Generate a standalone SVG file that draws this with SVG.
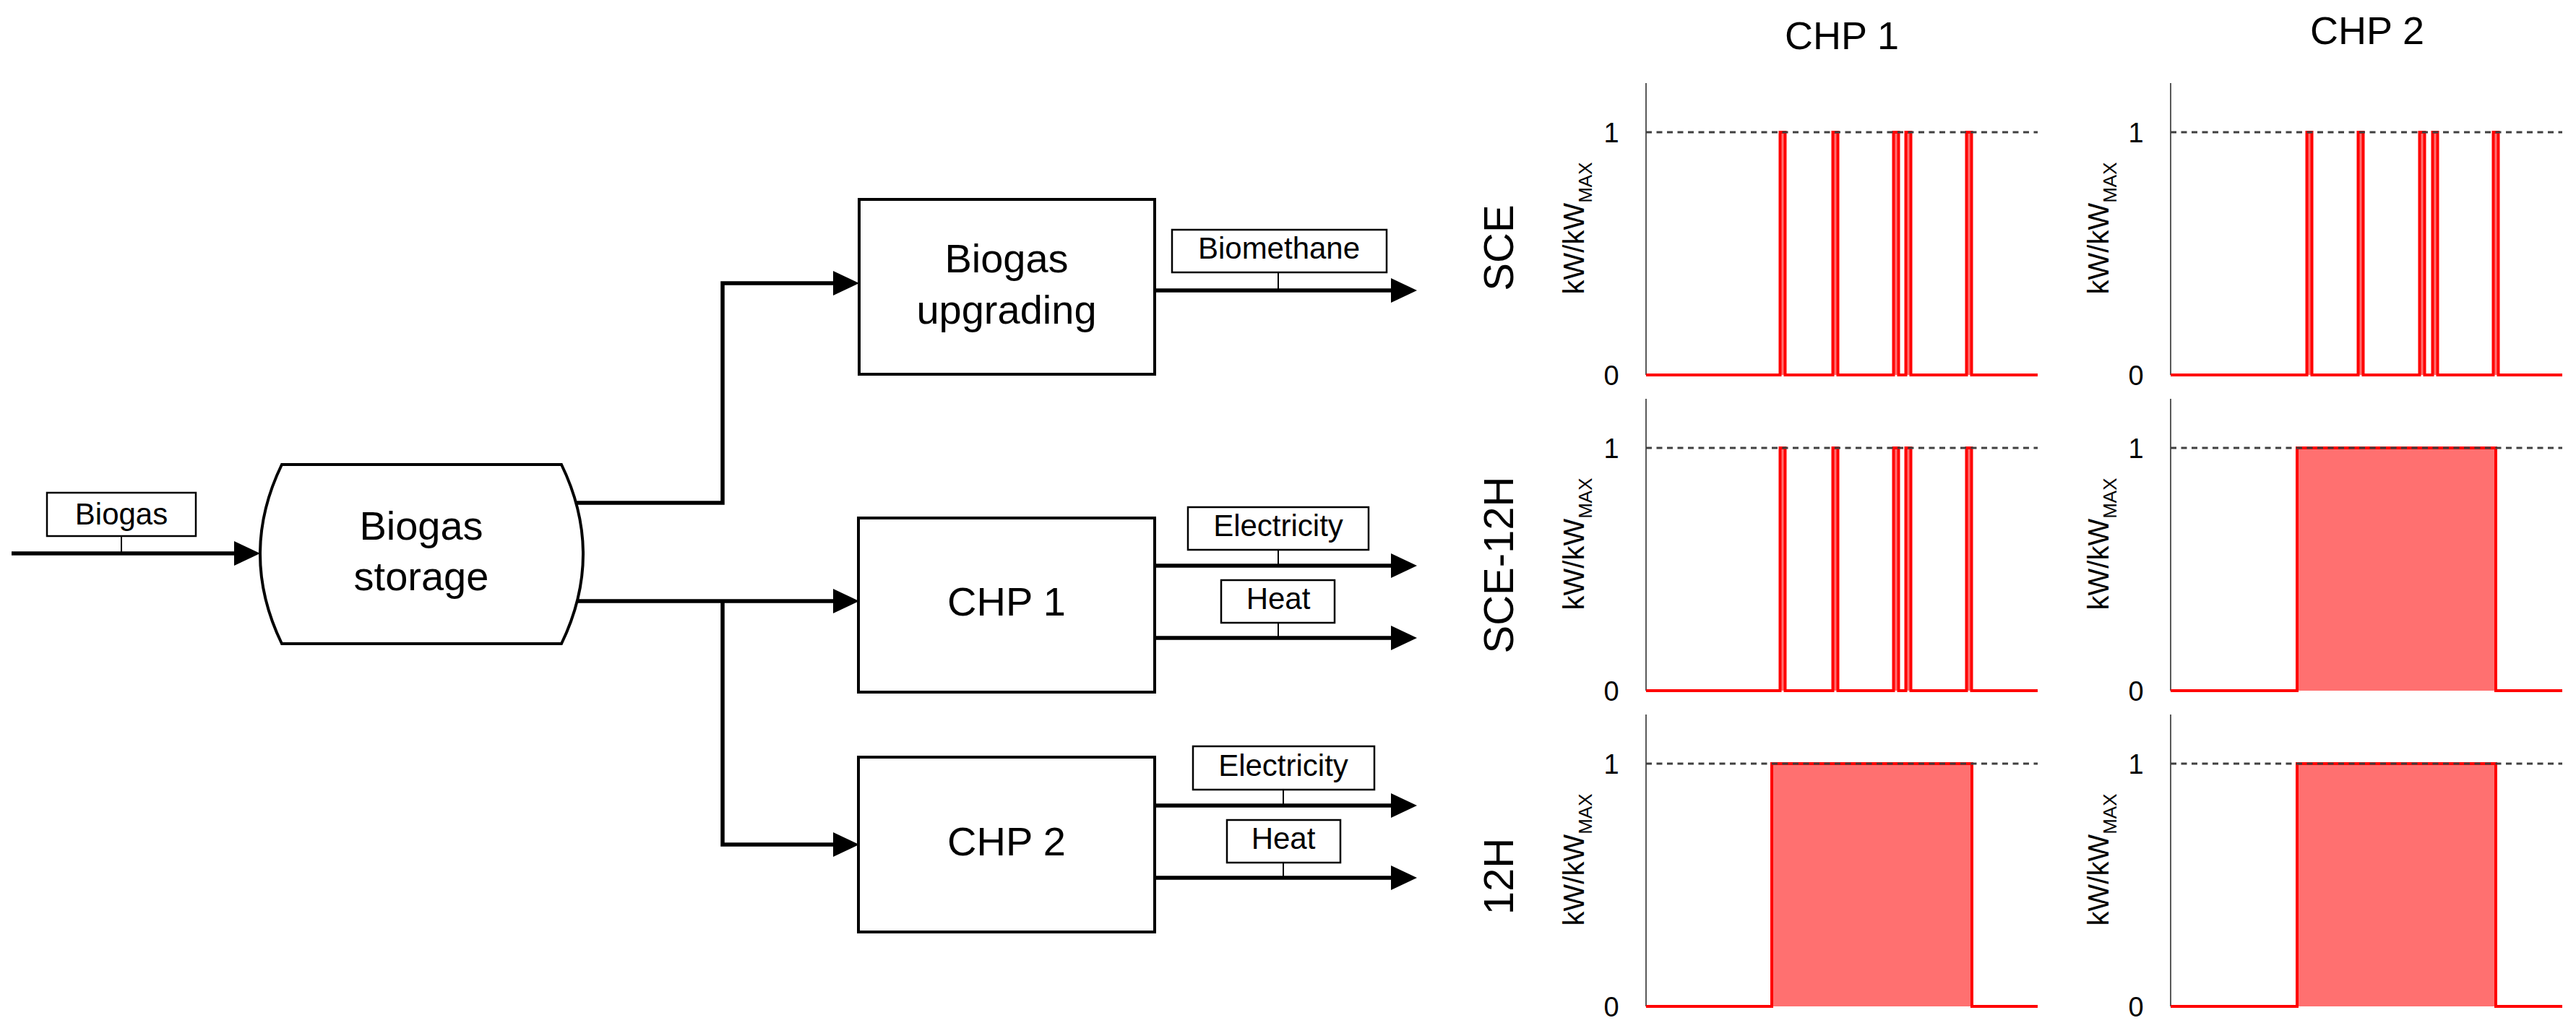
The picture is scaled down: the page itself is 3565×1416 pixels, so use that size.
<svg xmlns="http://www.w3.org/2000/svg" width="3565" height="1416" viewBox="0 0 3565 1416">
<style>
text{font-family:"Liberation Sans",Arial,sans-serif;fill:#000}
.node{fill:#fff;stroke:#000;stroke-width:4}
.nt{font-size:56px;text-anchor:middle}
.lb{fill:#fff;stroke:#000;stroke-width:2.5}
.lt{font-size:42px;text-anchor:middle}
.tick{stroke:#000;stroke-width:2}
.flow{fill:none;stroke:#000;stroke-width:5.5}
.axis{stroke:#595959;stroke-width:2}
.dot{stroke:#404040;stroke-width:3;stroke-dasharray:8 6.5}
.ser{fill:#FF7070;stroke:#FF0000;stroke-width:4;stroke-linejoin:miter}
.tl{font-size:38px;text-anchor:middle}
.yl{font-size:40px;text-anchor:middle}
.rl{font-size:58px;text-anchor:middle}
.ct{font-size:54px;text-anchor:middle}
</style>
<defs>
<marker id="arr" markerUnits="userSpaceOnUse" markerWidth="36" markerHeight="34" refX="0" refY="17" orient="auto">
<path d="M0,0 L36,17 L0,34 Z" fill="#000"/>
</marker>
</defs>
<rect width="3565" height="1416" fill="#fff"/>

<g id="connectors">
<path class="flow" d="M16,766 H324" marker-end="url(#arr)"/>
<path class="flow" d="M797,696 H1000 V392 H1153" marker-end="url(#arr)"/>
<path class="flow" d="M799,832 H1153" marker-end="url(#arr)"/>
<path class="flow" d="M1000,832 V1169 H1153" marker-end="url(#arr)"/>
<path class="flow" d="M1598,402 H1925" marker-end="url(#arr)"/>
<path class="flow" d="M1598,783 H1925" marker-end="url(#arr)"/>
<path class="flow" d="M1598,883 H1925" marker-end="url(#arr)"/>
<path class="flow" d="M1598,1115 H1925" marker-end="url(#arr)"/>
<path class="flow" d="M1598,1215 H1925" marker-end="url(#arr)"/>
</g>

<g id="label-biogas">
<line class="tick" x1="168" y1="742" x2="168" y2="766"/>
<rect class="lb" x="65" y="682" width="206" height="60"/>
<text class="lt" x="168" y="726">Biogas</text>
</g>

<g id="node-biogas-storage">
<path class="node" d="M390,643 L777,643 Q837,767 777,891 L390,891 Q330,767 390,643 Z"/>
<text class="nt" x="583" y="747">Biogas</text>
<text class="nt" x="583" y="817">storage</text>
</g>

<g id="node-biogas-upgrading">
<rect class="node" x="1189" y="276" width="409" height="242"/>
<text class="nt" x="1393" y="377">Biogas</text>
<text class="nt" x="1393" y="448">upgrading</text>
</g>

<g id="label-biomethane">
<line class="tick" x1="1769" y1="377" x2="1769" y2="402"/>
<rect class="lb" x="1622" y="318" width="297" height="59"/>
<text class="lt" x="1770" y="358">Biomethane</text>
</g>

<g id="node-chp1">
<rect class="node" x="1188" y="717" width="410" height="241"/>
<text class="nt" x="1393" y="852">CHP 1</text>
</g>

<g id="label-chp1-electricity">
<line class="tick" x1="1769" y1="761" x2="1769" y2="783"/>
<rect class="lb" x="1644" y="702" width="250" height="59"/>
<text class="lt" x="1769" y="742">Electricity</text>
</g>
<g id="label-chp1-heat">
<line class="tick" x1="1769" y1="862" x2="1769" y2="883"/>
<rect class="lb" x="1690" y="803" width="157" height="59"/>
<text class="lt" x="1769" y="843">Heat</text>
</g>

<g id="node-chp2">
<rect class="node" x="1188" y="1048" width="410" height="242"/>
<text class="nt" x="1393" y="1184">CHP 2</text>
</g>

<g id="label-chp2-electricity">
<line class="tick" x1="1776" y1="1093" x2="1776" y2="1115"/>
<rect class="lb" x="1651" y="1033" width="251" height="60"/>
<text class="lt" x="1776" y="1074">Electricity</text>
</g>
<g id="label-chp2-heat">
<line class="tick" x1="1776" y1="1194" x2="1776" y2="1215"/>
<rect class="lb" x="1698" y="1135" width="157" height="59"/>
<text class="lt" x="1776" y="1175">Heat</text>
</g>

<g id="charts">
<text class="ct" x="2549" y="68">CHP 1</text>
<text class="ct" x="3276" y="61">CHP 2</text>

<text class="rl" transform="translate(2094,343) rotate(-90)">SCE</text>
<text class="rl" transform="translate(2094,782) rotate(-90)">SCE-12H</text>
<text class="rl" transform="translate(2094,1213) rotate(-90)">12H</text>

<!-- row 1 chart 1 -->
<g id="chart-sce-chp1">
<line class="axis" x1="2278" y1="115" x2="2278" y2="519"/>
<text class="yl" transform="translate(2192,316) rotate(-90)">kW/kW<tspan font-size="26" dy="11">MAX</tspan></text>
<text class="tl" x="2230" y="197">1</text>
<text class="tl" x="2230" y="533">0</text>
<path class="ser" d="M2278,519 H2463.5 V183 H2470.5 V519 H2536.5 V183 H2543.5 V519 H2620.5 V183 H2627.5 V519 H2637.5 V183 H2644.5 V519 H2721.5 V183 H2728.5 V519 H2820"/>
<line class="dot" x1="2278" y1="183" x2="2820" y2="183"/>
</g>
<!-- row 1 chart 2 -->
<g id="chart-sce-chp2">
<line class="axis" x1="3004" y1="115" x2="3004" y2="519"/>
<text class="yl" transform="translate(2918,316) rotate(-90)">kW/kW<tspan font-size="26" dy="11">MAX</tspan></text>
<text class="tl" x="2956" y="197">1</text>
<text class="tl" x="2956" y="533">0</text>
<path class="ser" d="M3004,519 H3192.5 V183 H3199.5 V519 H3263.5 V183 H3270.5 V519 H3348.5 V183 H3355.5 V519 H3366.5 V183 H3373.5 V519 H3450.5 V183 H3457.5 V519 H3546"/>
<line class="dot" x1="3004" y1="183" x2="3546" y2="183"/>
</g>
<!-- row 2 chart 1 -->
<g id="chart-sce12h-chp1">
<line class="axis" x1="2278" y1="552" x2="2278" y2="956"/>
<text class="yl" transform="translate(2192,753) rotate(-90)">kW/kW<tspan font-size="26" dy="11">MAX</tspan></text>
<text class="tl" x="2230" y="634">1</text>
<text class="tl" x="2230" y="970">0</text>
<path class="ser" d="M2278,956 H2463.5 V620 H2470.5 V956 H2536.5 V620 H2543.5 V956 H2620.5 V620 H2627.5 V956 H2637.5 V620 H2644.5 V956 H2721.5 V620 H2728.5 V956 H2820"/>
<line class="dot" x1="2278" y1="620" x2="2820" y2="620"/>
</g>
<!-- row 2 chart 2 -->
<g id="chart-sce12h-chp2">
<line class="axis" x1="3004" y1="552" x2="3004" y2="956"/>
<text class="yl" transform="translate(2918,753) rotate(-90)">kW/kW<tspan font-size="26" dy="11">MAX</tspan></text>
<text class="tl" x="2956" y="634">1</text>
<text class="tl" x="2956" y="970">0</text>
<path class="ser" d="M3004,956 H3179 V620 H3454 V956 H3546"/>
<line class="dot" x1="3004" y1="620" x2="3546" y2="620"/>
</g>
<!-- row 3 chart 1 -->
<g id="chart-12h-chp1">
<line class="axis" x1="2278" y1="989" x2="2278" y2="1393"/>
<text class="yl" transform="translate(2192,1190) rotate(-90)">kW/kW<tspan font-size="26" dy="11">MAX</tspan></text>
<text class="tl" x="2230" y="1071">1</text>
<text class="tl" x="2230" y="1407">0</text>
<path class="ser" d="M2278,1393 H2452 V1057 H2729 V1393 H2820"/>
<line class="dot" x1="2278" y1="1057" x2="2820" y2="1057"/>
</g>
<!-- row 3 chart 2 -->
<g id="chart-12h-chp2">
<line class="axis" x1="3004" y1="989" x2="3004" y2="1393"/>
<text class="yl" transform="translate(2918,1190) rotate(-90)">kW/kW<tspan font-size="26" dy="11">MAX</tspan></text>
<text class="tl" x="2956" y="1071">1</text>
<text class="tl" x="2956" y="1407">0</text>
<path class="ser" d="M3004,1393 H3179 V1057 H3454 V1393 H3546"/>
<line class="dot" x1="3004" y1="1057" x2="3546" y2="1057"/>
</g>
</g>
</svg>
